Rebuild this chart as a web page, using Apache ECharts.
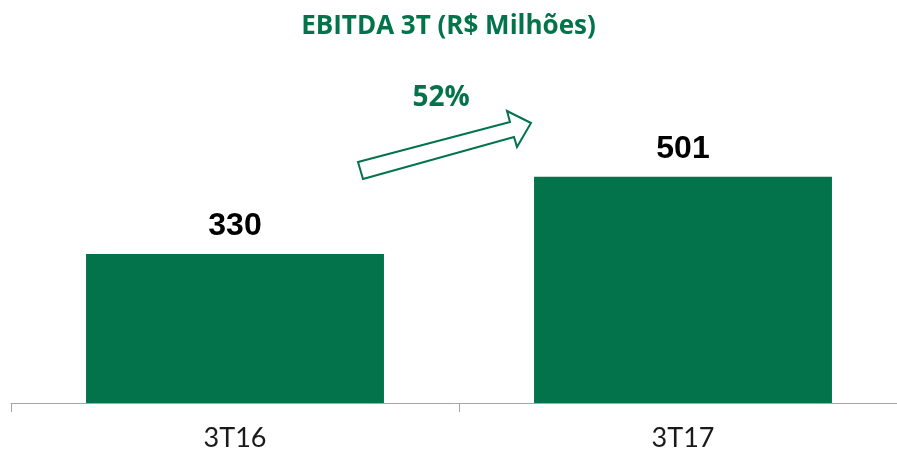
<!DOCTYPE html>
<html>
<head>
<meta charset="utf-8">
<script src="https://cdn.jsdelivr.net/npm/echarts@6/dist/echarts.min.js"></script>
<style>
  html, body { margin: 0; padding: 0; background: #fff; }
  #chart { width: 897px; height: 462px; }
</style>
</head>
<body>
<div id="chart"></div>
<script>
  // dados
  var categories = ['3T16', '3T17'];
  var ebitda = [330, 501];
  var growthLabel = '52%';

  var green = '#02734A';
  var chart = echarts.init(document.getElementById('chart'));

  var option = {
    animation: false,
    title: {
      text: 'EBITDA 3T (R$ Milhões)',
      left: 'center',
      top: 9,
      textStyle: {
        color: green,
        fontFamily: 'Open Sans',
        fontWeight: 'bold',
        fontSize: 26
      }
    },
    // eixo passa um pouco da borda direita, como no original
    grid: { left: 11, right: -10, top: 87, bottom: 59, outerBoundsMode: 'none' },
    xAxis: {
      type: 'category',
      data: categories,
      axisLine: { lineStyle: { color: '#a6a6a6', width: 1 } },
      axisTick: { show: true, length: 9, lineStyle: { color: '#a6a6a6' } },
      axisLabel: {
        color: '#1a1a1a',
        fontFamily: 'Lato',
        fontSize: 27,
        margin: 22
      }
    },
    yAxis: {
      type: 'value',
      min: 0,
      max: 700,
      show: false,
      splitLine: { show: false }
    },
    series: [{
      type: 'bar',
      data: ebitda,
      barWidth: '66.5%',
      itemStyle: { color: green },
      label: {
        show: true,
        position: 'top',
        distance: 12,
        color: '#000',
        fontFamily: 'Liberation Sans',
        fontWeight: 'bold',
        fontSize: 32
      }
    }],
    // seta de crescimento
    graphic: [{
      type: 'polygon',
      shape: {
        points: [[358, 162], [510, 122], [507, 111], [531, 123], [517, 147], [514, 137], [363, 179]]
      },
      style: { fill: '#fff', stroke: green, lineWidth: 2 }
    }, {
      type: 'text',
      x: 441,
      y: 98,
      style: {
        text: growthLabel,
        fill: green,
        font: 'bold 28px "Open Sans"',
        textAlign: 'center',
        textVerticalAlign: 'middle'
      }
    }]
  };
  chart.setOption(option);
</script>
</body>
</html>
